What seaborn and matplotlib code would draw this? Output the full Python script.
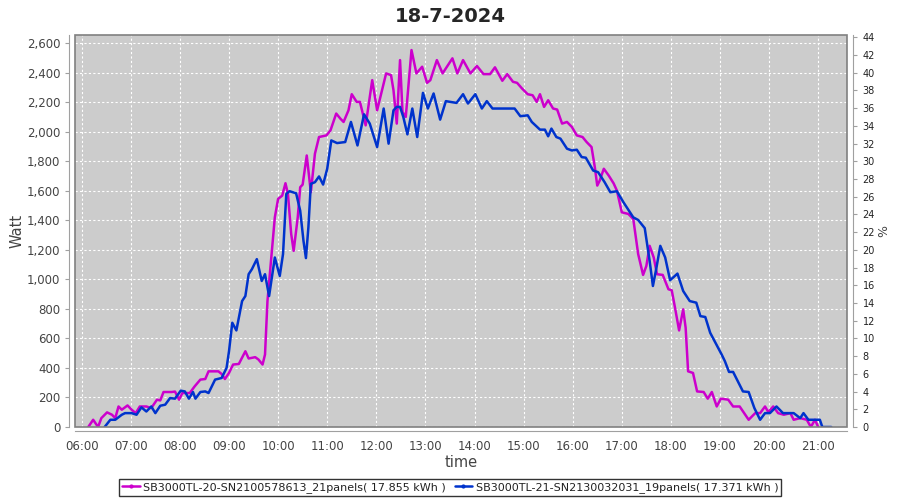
import numpy as np
import pandas as pd
import matplotlib
matplotlib.use("Agg")
import matplotlib.pyplot as plt
from matplotlib.lines import Line2D
from matplotlib.patches import Rectangle
from matplotlib.ticker import FuncFormatter, MultipleLocator
import seaborn as sns

# ── data ─────────────────────────────────────────────────────────
TITLE = "18-7-2024"
NAME_A = "SB3000TL-20-SN2100578613_21panels( 17.855 kWh )"
NAME_B = "SB3000TL-21-SN2130032031_19panels( 17.371 kWh )"

time_a = ["06:08", "06:14", "06:20", "06:24", "06:31", "06:37", "06:41", "06:45", "06:49", "06:56",
          "07:01", "07:06", "07:11", "07:19", "07:25", "07:32", "07:36", "07:40", "07:50", "07:54",
          "07:59", "08:03", "08:12", "08:18", "08:25", "08:31", "08:35", "08:47", "08:51", "08:55",
          "09:00", "09:05", "09:12", "09:20", "09:24", "09:32", "09:36", "09:41", "09:44", "09:47",
          "09:52", "09:56", "10:00", "10:05", "10:09", "10:12", "10:16", "10:19", "10:24", "10:27",
          "10:30", "10:35", "10:40", "10:45", "10:50", "10:59", "11:04", "11:11", "11:16", "11:20",
          "11:26", "11:30", "11:36", "11:40", "11:47", "11:55", "12:01", "12:05", "12:12", "12:18",
          "12:21", "12:25", "12:29", "12:32", "12:36", "12:43", "12:49", "12:56", "13:02", "13:06",
          "13:14", "13:21", "13:33", "13:39", "13:46", "13:55", "14:03", "14:11", "14:19", "14:25",
          "14:34", "14:40", "14:47", "14:52", "14:58", "15:05", "15:11", "15:16", "15:20", "15:25",
          "15:30", "15:36", "15:41", "15:47", "15:53", "15:59", "16:05", "16:12", "16:17", "16:23",
          "16:27", "16:30", "16:33", "16:38", "16:44", "16:50", "16:54", "17:00", "17:08", "17:14",
          "17:20", "17:26", "17:30", "17:34", "17:39", "17:43", "17:50", "17:57", "18:01", "18:05",
          "18:10", "18:15", "18:18", "18:21", "18:27", "18:32", "18:40", "18:45", "18:50", "18:56",
          "19:01", "19:10", "19:16", "19:24", "19:35", "19:43", "19:49", "19:55", "19:59", "20:05",
          "20:11", "20:18", "20:26", "20:30", "20:38", "20:46", "20:51", "20:56", "21:00"]
watt_a = [0, 49, 0, 60, 99, 83, 60, 139, 117, 146,
          117, 94, 139, 139, 128, 185, 180, 237, 237, 240,
          185, 230, 230, 275, 321, 325, 377, 377, 359, 325,
          366, 423, 427, 513, 464, 473, 457, 423, 491, 853,
          1171, 1420, 1545, 1567, 1651, 1579, 1307, 1193, 1420, 1624,
          1642, 1839, 1590, 1851, 1964, 1975, 2009, 2123, 2089, 2066,
          2145, 2254, 2202, 2202, 2043, 2349, 2145, 2236, 2395, 2383,
          2281, 2055, 2485, 2134, 2100, 2553, 2395, 2440, 2331, 2349,
          2485, 2395, 2497, 2395, 2485, 2395, 2445, 2390, 2390, 2436,
          2345, 2390, 2338, 2331, 2293, 2254, 2247, 2202, 2254, 2168,
          2213, 2157, 2150, 2055, 2066, 2032, 1975, 1964, 1930, 1896,
          1760, 1635, 1669, 1749, 1703, 1650, 1601, 1454, 1443, 1409,
          1171, 1030, 1091, 1227, 1148, 1035, 1030, 933, 926, 808,
          654, 797, 672, 377, 366, 241, 237, 192, 237, 139,
          192, 185, 139, 139, 49, 94, 94, 139, 101, 139,
          94, 83, 94, 49, 60, 49, 0, 49, 0]

time_b = ["06:28", "06:35", "06:41", "06:49", "06:53", "07:01", "07:07", "07:13", "07:19", "07:25",
          "07:30", "07:36", "07:42", "07:48", "07:54", "08:01", "08:06", "08:11", "08:16", "08:19",
          "08:25", "08:31", "08:35", "08:43", "08:51", "08:57", "09:00", "09:04", "09:09", "09:16",
          "09:20", "09:24", "09:28", "09:34", "09:40", "09:44", "09:49", "09:56", "10:02", "10:06",
          "10:10", "10:14", "10:22", "10:27", "10:31", "10:34", "10:37", "10:40", "10:45", "10:50",
          "10:55", "11:00", "11:05", "11:12", "11:22", "11:29", "11:37", "11:45", "11:52", "12:01",
          "12:09", "12:15", "12:21", "12:25", "12:29", "12:33", "12:38", "12:44", "12:50", "12:57",
          "13:03", "13:10", "13:18", "13:25", "13:38", "13:46", "13:52", "14:01", "14:09", "14:15",
          "14:22", "14:49", "14:56", "15:05", "15:10", "15:20", "15:26", "15:30", "15:34", "15:40",
          "15:45", "15:53", "15:59", "16:05", "16:11", "16:16", "16:25", "16:31", "16:39", "16:46",
          "16:54", "17:02", "17:14", "17:20", "17:28", "17:34", "17:38", "17:42", "17:47", "17:53",
          "17:59", "18:08", "18:15", "18:23", "18:31", "18:36", "18:42", "18:48", "19:02", "19:06",
          "19:11", "19:16", "19:28", "19:35", "19:42", "19:49", "19:55", "20:01", "20:09", "20:17",
          "20:30", "20:38", "20:42", "20:48", "21:02", "21:05", "21:16"]
watt_b = [0, 49, 49, 83, 94, 94, 83, 133, 105, 139,
          94, 144, 151, 196, 192, 246, 241, 192, 237, 192,
          237, 241, 230, 321, 332, 400, 513, 706, 654, 853,
          887, 1035, 1069, 1137, 989, 1035, 887, 1148, 1023, 1171,
          1579, 1597, 1583, 1465, 1261, 1144, 1352, 1647, 1658, 1697,
          1642, 1749, 1941, 1923, 1930, 2066, 1907, 2118, 2055, 1896,
          2157, 1919, 2145, 2168, 2168, 2100, 1982, 2157, 1964, 2263,
          2157, 2259, 2082, 2207, 2195, 2254, 2191, 2254, 2157, 2207,
          2157, 2157, 2105, 2111, 2066, 2014, 2014, 1969, 2021, 1964,
          1953, 1885, 1873, 1878, 1828, 1824, 1737, 1726, 1658, 1590,
          1597, 1522, 1420, 1402, 1347, 1125, 955, 1069, 1227, 1148,
          994, 1039, 921, 853, 842, 751, 745, 638, 491, 445,
          373, 373, 241, 237, 128, 49, 94, 94, 139, 94,
          94, 60, 94, 49, 49, 0, 0]

PINK = "#CC00CC"
BLUE = "#0033CC"
PCT_DIV = 60.0   # right axis shows watt / 60


def to_hours(hhmm):
    h, m = hhmm.split(":")
    return int(h) + int(m) / 60.0


df = pd.concat([
    pd.DataFrame({"hour": [to_hours(t) for t in time_a], "watt": watt_a, "inverter": NAME_A}),
    pd.DataFrame({"hour": [to_hours(t) for t in time_b], "watt": watt_b, "inverter": NAME_B}),
], ignore_index=True)

# ── figure ───────────────────────────────────────────────────────
sns.set_style("white")
plt.rcParams["font.family"] = ["DejaVu Sans"]

fig = plt.figure(figsize=(9, 5), dpi=100)
ax = fig.add_axes([75 / 900, 1 - 427 / 500, 771.5 / 900, 392 / 500])
ax.set_facecolor("#CCCCCC")

sns.lineplot(data=df, x="hour", y="watt", hue="inverter",
             palette={NAME_A: PINK, NAME_B: BLUE}, linewidth=1.8,
             estimator=None, sort=False, legend=False, ax=ax)

YMAX = 2655
ax.set_xlim(5.8635, 21.576)
ax.set_ylim(0, YMAX)
ax.xaxis.set_major_locator(MultipleLocator(1))
ax.xaxis.set_major_formatter(FuncFormatter(lambda v, p: f"{int(round(v)):02d}:00"))
ax.yaxis.set_major_locator(MultipleLocator(200))
ax.yaxis.set_major_formatter(FuncFormatter(lambda v, p: f"{int(v):,}"))
ax.grid(True, color="white", linestyle=(0, (2, 2)), linewidth=0.8)

for s in ["top", "right"]:
    ax.spines[s].set_visible(False)
ax.spines["left"].set_position(("outward", 4))
ax.spines["bottom"].set_position(("outward", 3))
for s in ["left", "bottom"]:
    ax.spines[s].set_color("#A0A0A0")
ax.tick_params(axis="both", colors="#A0A0A0", labelcolor="#444444",
               labelsize=8.5, length=3, width=0.8)
ax.add_patch(Rectangle((0, 0), 1, 1, transform=ax.transAxes, fill=False,
                       edgecolor="#808080", linewidth=1.2, clip_on=False, zorder=5))

ax.set_xlabel("time", fontsize=10.5, color="#444444", labelpad=1)
ax.set_ylabel("Watt", fontsize=10.5, color="#444444", labelpad=2)

# right axis in percent
ax2 = ax.twinx()
ax2.set_ylim(0, YMAX / PCT_DIV)
ax2.yaxis.set_major_locator(MultipleLocator(2))
for s in ["top", "left", "bottom"]:
    ax2.spines[s].set_visible(False)
ax2.spines["right"].set_position(("outward", 5))
ax2.spines["right"].set_color("#A0A0A0")
ax2.tick_params(axis="y", colors="#A0A0A0", labelcolor="#222222",
                labelsize=7, length=3, width=0.8)
ax2.set_ylabel("%", fontsize=9, color="#444444", labelpad=2)

fig.suptitle(TITLE, fontsize=14, fontweight="bold", y=0.985)

handles = [Line2D([0], [0], color=PINK, lw=1.8, marker="o", markersize=2),
           Line2D([0], [0], color=BLUE, lw=1.8, marker="o", markersize=2)]
leg = fig.legend(handles, [NAME_A, NAME_B], loc="center", bbox_to_anchor=(0.5, 1 - 487.5 / 500),
                 ncol=2, fontsize=8, frameon=True, fancybox=False, edgecolor="black",
                 handlelength=1.6, handletextpad=0.3, columnspacing=0.8,
                 borderpad=0.25, labelcolor="#222222")
leg.get_frame().set_linewidth(1.0)

fig.savefig("out.png", dpi=100)
